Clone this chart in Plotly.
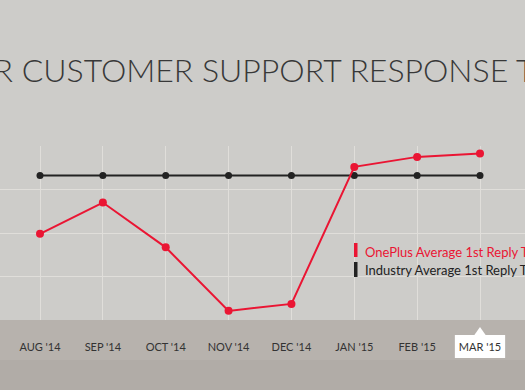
import plotly.graph_objects as go

months = ["AUG '14", "SEP '14", "OCT '14", "NOV '14", "DEC '14", "JAN '15", "FEB '15", "MAR '15"]
oneplus = [1.98, 2.70, 1.67, 0.21, 0.37, 3.52, 3.75, 3.83]
industry = [3.32, 3.32, 3.32, 3.32, 3.32, 3.32, 3.32, 3.32]
series_names = ["OnePlus Average 1st Reply Time", "Industry Average 1st Reply Time"]
title_text = "OUR CUSTOMER SUPPORT RESPONSE TIME"

RED = "#ea1533"
BLACK = "#222222"
W, H = 525, 390
TOP, BOT = 146, 70
PH = H - TOP - BOT

def py(px):
    return (H - BOT - px) / PH

def pxx(px):
    return px / W

xs = list(range(len(months)))

fig = go.Figure()
fig.add_trace(go.Scatter(x=xs, y=industry, mode="lines+markers", name=series_names[1],
                         line=dict(color=BLACK, width=2), marker=dict(color=BLACK, size=7),
                         showlegend=False, hoverinfo="skip"))
fig.add_trace(go.Scatter(x=xs, y=oneplus, mode="lines+markers", name=series_names[0],
                         line=dict(color=RED, width=2), marker=dict(color=RED, size=8),
                         showlegend=False, hoverinfo="skip"))

last = len(months) - 1
shapes = [
    # bottom band
    dict(type="rect", xref="paper", yref="paper", x0=0, x1=1, y0=py(H), y1=py(H - BOT),
         fillcolor="#b7b2ad", line=dict(width=0), layer="below"),
    dict(type="rect", xref="paper", yref="paper", x0=0, x1=1, y0=py(H), y1=py(H - 30),
         fillcolor="#b1aca7", line=dict(width=0), layer="below"),
    # highlight box around last month label
    dict(type="rect", xref="x", yref="paper", x0=last - 0.4, x1=last + 0.4,
         y0=py(358), y1=py(335), fillcolor="white", line=dict(width=0), layer="below"),
    dict(type="path", xref="x", yref="paper",
         path=f"M {last-0.095},{py(335.5)} L {last},{py(327)} L {last+0.095},{py(335.5)} Z",
         fillcolor="white", line=dict(width=0), layer="below"),
    # legend swatches
    dict(type="rect", xref="paper", yref="paper", x0=pxx(354), x1=pxx(357.5),
         y0=py(257), y1=py(243), fillcolor=RED, line=dict(width=0)),
    dict(type="rect", xref="paper", yref="paper", x0=pxx(354), x1=pxx(357.5),
         y0=py(277), y1=py(262), fillcolor=BLACK, line=dict(width=0)),
]

annotations = [
    dict(text=title_text, xref="paper", yref="paper", x=pxx(-57), y=py(69),
         xanchor="left", yanchor="middle", showarrow=False,
         font=dict(family="Lato", size=32, color="#383838", weight=300)),
    dict(text=series_names[0], xref="paper", yref="paper", x=pxx(363), y=py(252),
         xanchor="left", yanchor="middle", showarrow=False,
         font=dict(family="Lato", size=13, color=RED)),
    dict(text=series_names[1], xref="paper", yref="paper", x=pxx(363), y=py(269.5),
         xanchor="left", yanchor="middle", showarrow=False,
         font=dict(family="Lato", size=13, color=BLACK)),
]

x0px, x7px = 40, 480
unit = (x7px - x0px) / last
fig.update_layout(
    width=W, height=H,
    margin=dict(l=0, r=0, t=TOP, b=BOT, autoexpand=False),
    paper_bgcolor="#cdccc9", plot_bgcolor="rgba(0,0,0,0)",
    shapes=shapes, annotations=annotations,
    xaxis=dict(range=[-x0px / unit, last + (W - x7px) / unit], tickmode="array",
               tickvals=xs, ticktext=months, showgrid=True, gridcolor="#e0deda", gridwidth=1,
               zeroline=False, showline=False, ticks="outside", ticklen=17,
               tickcolor="rgba(0,0,0,0)",
               tickfont=dict(family="Lato", size=11, color="#333333")),
    yaxis=dict(range=[0, 4], dtick=1, showgrid=True, gridcolor="#e0deda", gridwidth=1,
               zeroline=False, showline=False, showticklabels=False),
    showlegend=False,
)

fig.write_html("out.html", config={"displayModeBar": False},
               post_script="document.body.style.margin='0';document.body.style.overflow='hidden';")
